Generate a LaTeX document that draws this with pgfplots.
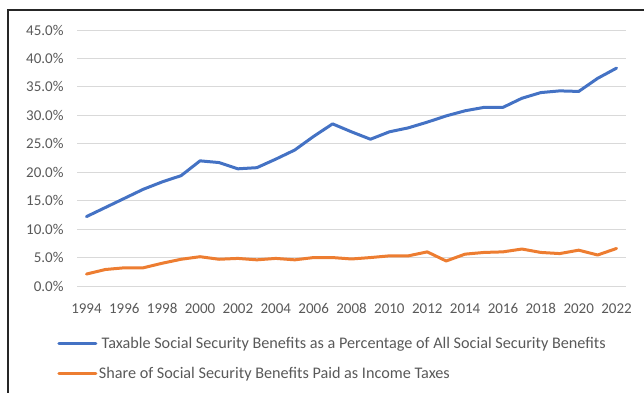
\documentclass[border=0pt]{standalone}
\usepackage{fontspec}
\setmainfont{Carlito}
\usepackage{pgfplots}
\pgfplotsset{compat=1.18}
\definecolor{sblue}{HTML}{4472C4}
\definecolor{sorange}{HTML}{ED7D31}
\definecolor{tgray}{HTML}{595959}
\definecolor{ggray}{HTML}{D9D9D9}
\begin{document}
\begin{tikzpicture}[x=1bp,y=1bp]
\useasboundingbox (0,0) rectangle (644,392);
\draw[line width=1.5bp, color=black!85] (8,-10) rectangle (660,382);
\begin{axis}[
  at={(77bp,106bp)}, anchor=south west,
  scale only axis, width=549bp, height=256bp,
  xmin=1993.5, xmax=2022.5, ymin=0, ymax=45,
  axis line style={draw=none},
  major tick length=0pt,
  ytick={0,5,...,45},
  ymajorgrids, grid style={ggray, line width=1bp},
  xtick={1994,1996,...,2022},
  /pgf/number format/assume math mode=true,
  xticklabel style={/pgf/number format/1000 sep={}, yshift=-14bp},
  yticklabel={\pgfmathprintnumber[fixed,fixed zerofill,precision=1]{\tick}\%},
  yticklabel style={xshift=-10bp},
  ticklabel style={font=\fontsize{15bp}{17bp}\selectfont, text=tgray},
  legend style={at={(-0.036,-0.283)}, anchor=west, draw=none, fill=none,
    inner sep=0pt, row sep=14.5bp,
    font=\fontsize{16.2bp}{19bp}\selectfont, text=tgray,
    nodes={inner sep=1.5bp}},
  legend cell align=left,
  legend image code/.code={\draw[#1, line width=3bp] (0bp,0bp) -- (37bp,0bp);},
  every axis plot/.append style={line width=3bp, line join=round, line cap=round},
]
\addplot[sblue] coordinates {
(1994,12.2) (1995,13.8) (1996,15.4) (1997,17.0) (1998,18.3) (1999,19.4)
(2000,22.0) (2001,21.7) (2002,20.6) (2003,20.8) (2004,22.3) (2005,23.9)
(2006,26.3) (2007,28.5) (2008,27.1) (2009,25.8) (2010,27.1) (2011,27.8)
(2012,28.8) (2013,29.9) (2014,30.8) (2015,31.4) (2016,31.4) (2017,33.0)
(2018,34.0) (2019,34.3) (2020,34.2) (2021,36.5) (2022,38.3)};
\addlegendentry{\,Taxable Social Security Benefits as a Percentage of All Social Security Benefits}
\addplot[sorange] coordinates {
(1994,2.1) (1995,2.9) (1996,3.2) (1997,3.2) (1998,4.0) (1999,4.7)
(2000,5.15) (2001,4.7) (2002,4.85) (2003,4.6) (2004,4.85) (2005,4.6)
(2006,5.0) (2007,5.0) (2008,4.75) (2009,5.0) (2010,5.3) (2011,5.3)
(2012,6.0) (2013,4.4) (2014,5.6) (2015,5.9) (2016,6.0) (2017,6.5)
(2018,5.9) (2019,5.7) (2020,6.3) (2021,5.45) (2022,6.6)};
\addlegendentry{Share of Social Security Benefits Paid as Income Taxes}
\end{axis}
\end{tikzpicture}
\end{document}
